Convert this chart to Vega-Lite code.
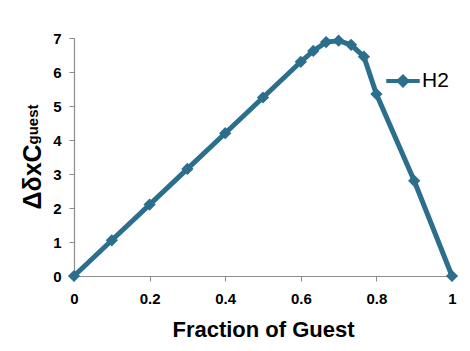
{
  "$schema": "https://vega.github.io/schema/vega-lite/v6.json",
  "autosize": "none",
  "width": 378,
  "height": 238,
  "padding": {"left": 74, "top": 38, "right": 18, "bottom": 75},
  "background": "white",
  "config": {
    "view": {"stroke": null},
    "font": "Liberation Sans",
    "axis": {"grid": false, "domainColor": "#8c8c8c", "tickColor": "#8c8c8c", "domainWidth": 1.2, "tickSize": 5, "labelFont": "Liberation Sans", "labelFontWeight": "bold", "labelFontSize": 15, "labelColor": "#000", "titleColor": "#000", "titleFont": "Liberation Sans", "titleFontWeight": "bold", "labelFlush": false}
  },
  "data": {"values": [
    {"f": 0, "v": 0, "s": "H2"},
    {"f": 0.1, "v": 1.05, "s": "H2"},
    {"f": 0.2, "v": 2.1, "s": "H2"},
    {"f": 0.3, "v": 3.15, "s": "H2"},
    {"f": 0.4, "v": 4.2, "s": "H2"},
    {"f": 0.5, "v": 5.25, "s": "H2"},
    {"f": 0.6, "v": 6.3, "s": "H2"},
    {"f": 0.633, "v": 6.62, "s": "H2"},
    {"f": 0.667, "v": 6.88, "s": "H2"},
    {"f": 0.7, "v": 6.92, "s": "H2"},
    {"f": 0.733, "v": 6.8, "s": "H2"},
    {"f": 0.767, "v": 6.45, "s": "H2"},
    {"f": 0.8, "v": 5.35, "s": "H2"},
    {"f": 0.9, "v": 2.8, "s": "H2"},
    {"f": 1.0, "v": 0, "s": "H2"}
  ]},
  "layer": [
    {
      "mark": {"type": "line", "strokeWidth": 5, "point": {"shape": "diamond", "size": 150, "filled": true}},
      "encoding": {
        "x": {"field": "f", "type": "quantitative", "scale": {"domain": [0, 1], "nice": false}, "axis": {"values": [0, 0.2, 0.4, 0.6, 0.8, 1], "title": "Fraction of Guest", "titleFontSize": 22, "labelPadding": 10, "titlePadding": 13, "format": "~g"}},
        "y": {"field": "v", "type": "quantitative", "scale": {"domain": [0, 7], "nice": false}, "axis": {"values": [0, 1, 2, 3, 4, 5, 6, 7], "title": "ΔδxC", "titleFontSize": 25, "labelPadding": 8, "titleAngle": -90, "titleAlign": "left", "titleBaseline": "alphabetic", "titleAnchor": null, "titleX": -34, "titleY": 171}},
        "color": {"field": "s", "type": "nominal", "scale": {"range": ["#2B6F8C"]}, "legend": {"title": null, "orient": "none", "legendX": 313, "legendY": 27, "labelFont": "Liberation Sans", "labelFontSize": 21, "labelColor": "#000", "symbolType": "M-1.2,0H1.2M-0.3,0L0,-0.3L0.3,0L0,0.3Z", "symbolSize": 780, "symbolStrokeWidth": 4, "symbolFillColor": "#2B6F8C", "labelOffset": 3}}
      }
    },
    {
      "mark": {"type": "point", "opacity": 0},
      "encoding": {
        "x": {"field": "f", "type": "quantitative"},
        "y": {"field": "v", "type": "quantitative", "scale": {"domain": [0, 7], "nice": false}, "axis": {"orient": "left", "labels": false, "ticks": false, "domain": false, "title": "guest", "titleFontSize": 15, "titleAngle": -90, "titleAlign": "left", "titleBaseline": "alphabetic", "titleAnchor": null, "titleX": -37, "titleY": 106}}
      }
    }
  ],
  "resolve": {"scale": {"y": "independent"}, "axis": {"y": "independent"}}
}
